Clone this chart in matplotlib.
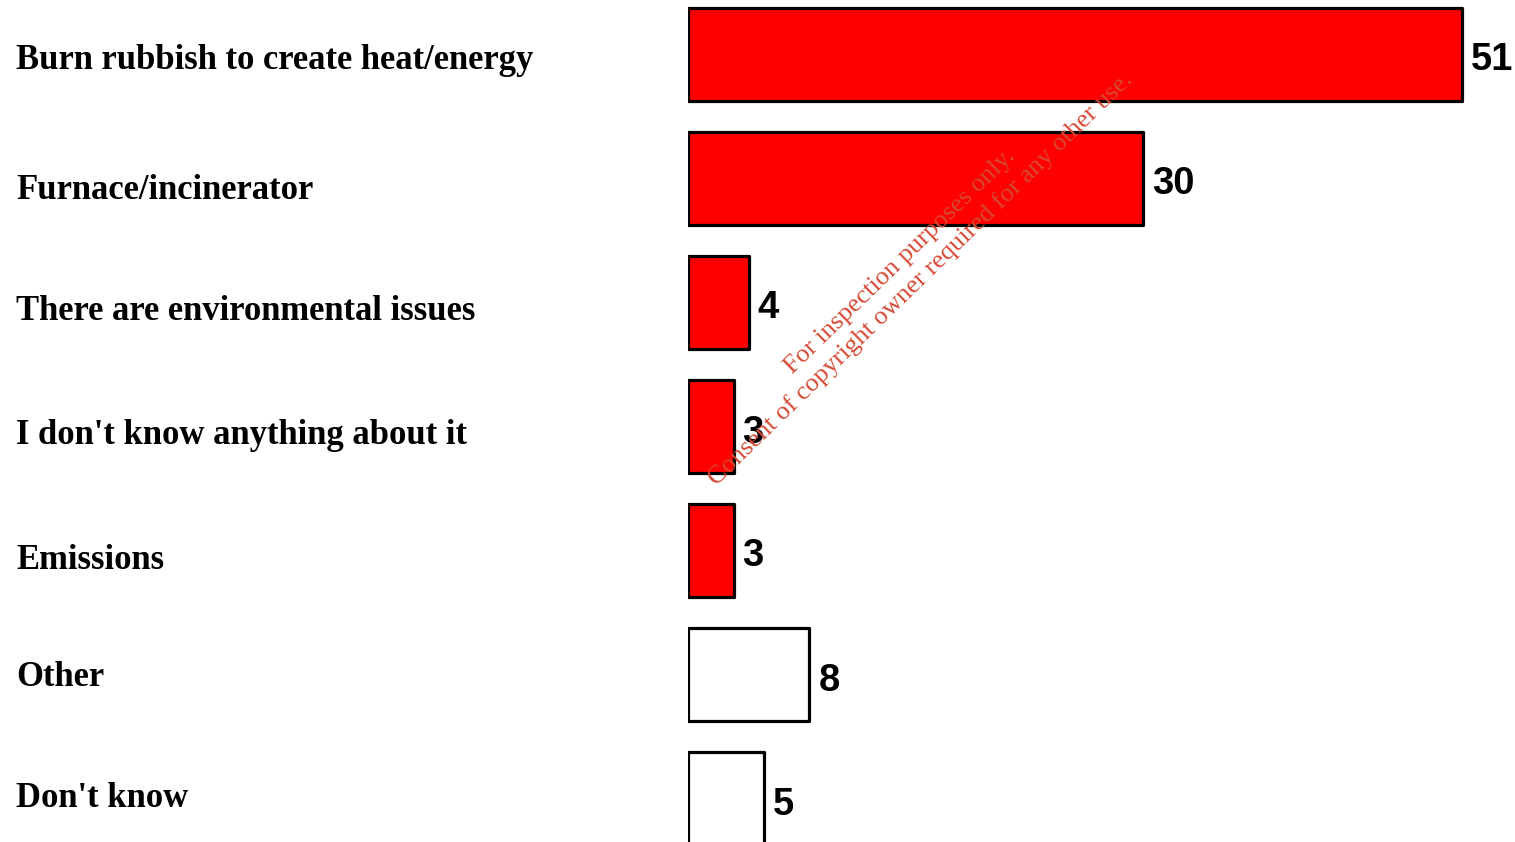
import matplotlib
matplotlib.use("Agg")
import matplotlib.pyplot as plt
from matplotlib.transforms import blended_transform_factory, offset_copy

categories = [
    "Burn rubbish to create heat/energy",
    "Furnace/incinerator",
    "There are environmental issues",
    "I don't know anything about it",
    "Emissions",
    "Other",
    "Don't know",
]
values = [51, 30, 4, 3, 3, 8, 5]
fills = ["#FF0000", "#FF0000", "#FF0000", "#FF0000", "#FF0000", "#FFFFFF", "#FFFFFF"]

W, H, DPI = 1515, 842, 100
fig = plt.figure(figsize=(W / DPI, H / DPI), dpi=DPI)
fig.patch.set_facecolor("white")

x0 = 688 / W
ax = fig.add_axes([x0, 0, 1 - x0, 1])
ax.set_axis_off()

px_per_unit = 15.18
ax.set_xlim(0, (W - 688) / px_per_unit)
step = 124.0
ax.set_ylim((H - 54.5) / step, -54.5 / step)

ypos = list(range(len(categories)))
bars = ax.barh(ypos, values, height=0.75, color=fills, edgecolor="black",
               linewidth=2.3, align="center")
for b in bars:
    b.set_joinstyle("round")

serif = ["Liberation Serif", "DejaVu Serif"]
sans = ["Liberation Sans", "DejaVu Sans"]

# vertical nudges (pixels, downward) for the category labels
label_nudge = [6, 12, 9, 9, 10, 3, 0]
label_tr = blended_transform_factory(fig.transFigure, ax.transData)
for y, cat, dy in zip(ypos, categories, label_nudge):
    ax.text(16 / W, y, cat, transform=offset_copy(label_tr, fig=fig, y=-dy, units="dots"),
            ha="left", va="center", fontsize=24.9, fontweight="bold", family=serif)

for y, v in zip(ypos, values):
    ax.text(v, y, str(v), transform=offset_copy(ax.transData, fig=fig, x=9, y=-6, units="dots"),
            ha="left", va="center", fontsize=27.5, fontweight="bold", family=sans)

wm_color = "#D64A34"
fig.text(900 / W, 1 - 262 / H, "For inspection purposes only.", rotation=44.2,
         rotation_mode="anchor", ha="center", va="center", fontsize=19,
         color=wm_color, family=serif)
fig.text(921 / W, 1 - 279 / H, "Consent of copyright owner required for any other use.",
         rotation=44.2, rotation_mode="anchor", ha="center", va="center", fontsize=19,
         color=wm_color, family=serif)

fig.savefig("out.png", dpi=DPI, facecolor="white")
